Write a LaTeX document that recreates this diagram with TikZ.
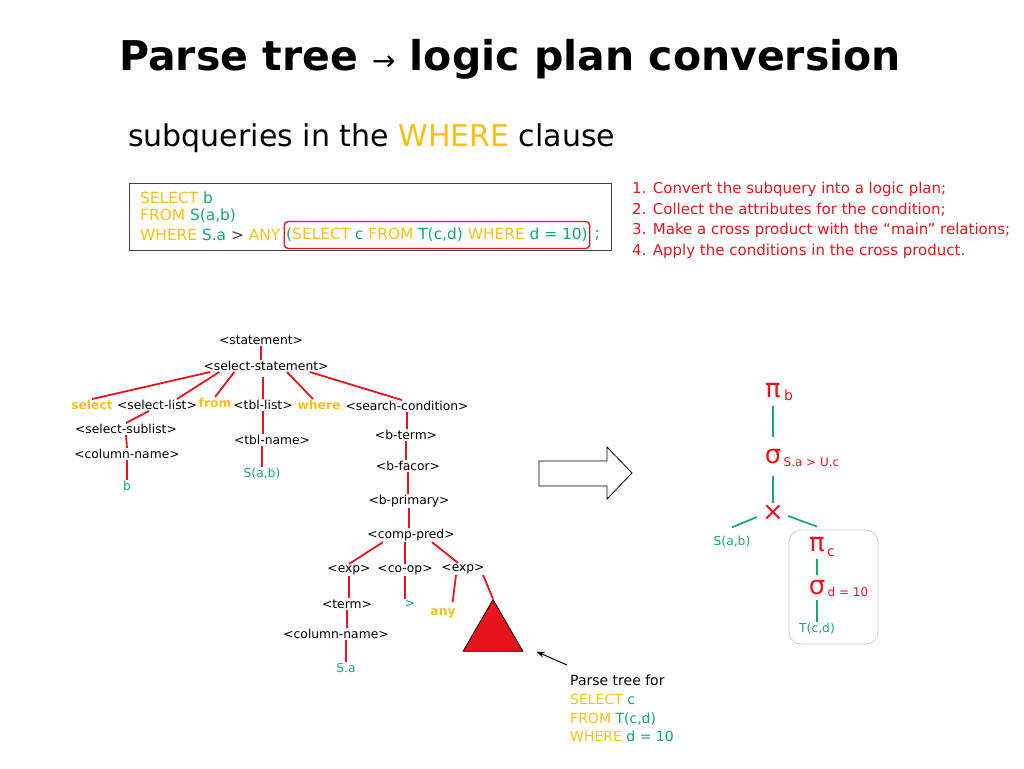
\documentclass[tikz,border=0pt]{standalone}
\usepackage{fontspec}
\setmainfont{DejaVu Sans}
\usetikzlibrary{positioning, shapes.geometric, arrows.meta, calc}
\definecolor{qred}{RGB}{232,20,28}
\definecolor{qyellow}{RGB}{248,192,20}
\definecolor{qgreen}{RGB}{20,168,106}
\definecolor{qgray}{RGB}{64,64,64}

\begin{document}
\begin{tikzpicture}[x=1pt, y=-1pt,
  nt/.style={inner sep=1pt, font=\fontsize{12.3}{12.3}\selectfont},
  kw/.style={nt, text=qyellow, font=\fontsize{12.3}{12.3}\selectfont\bfseries},
  leaf/.style={nt, text=qgreen},
  edge/.style={draw=qred, line width=1.8pt},
  pedge/.style={draw=qgreen, line width=1.7pt},
  op/.style={inner sep=0pt, text=qred, font=\fontsize{26}{26}\selectfont},
  opsub/.style={inner sep=0pt, text=qred, font=\fontsize{12}{12}\selectfont},
  sql/.style={inner sep=0pt, anchor=west, font=\fontsize{15.4}{15.4}\selectfont},
]
\useasboundingbox (0,0) rectangle (1024,768);

% title and query
\node[font=\bfseries\fontsize{41}{41}\selectfont] (title) at (510,59) {Parse tree \textmd{\fontsize{28}{28}\selectfont →} logic plan conversion};
\node[anchor=west, inner sep=0pt, font=\fontsize{30}{30}\selectfont] (subt) at (128,138) {subqueries in the \textcolor{qyellow}{WHERE} clause};

\node[draw=qgray, line width=1pt, minimum width=482pt, minimum height=67pt, anchor=north west] (box) at (129,183) {};
\node[sql] (q1) at (140,198) {\textcolor{qyellow}{SELECT} \textcolor{qgreen}{b}};
\node[sql] (q2) at (140,216) {\textcolor{qyellow}{FROM} \textcolor{qgreen}{S(a,b)}};
\node[sql] (q3) at (140,235) {\textcolor{qyellow}{WHERE} \textcolor{qgreen}{S.a} \textcolor{qgray}{>} \textcolor{qyellow}{ANY}};
\node[sql, right=3pt of q3, draw=qred, line width=1.4pt, rounded corners=4pt, inner xsep=2pt, minimum height=27pt] (inq) {\textcolor{qgreen}{(}\textcolor{qyellow}{SELECT} \textcolor{qgreen}{c} \textcolor{qyellow}{FROM} \textcolor{qgreen}{T(c,d)} \textcolor{qyellow}{WHERE} \textcolor{qgreen}{d = 10)}};
\node[sql, right=4pt of inq, text=qgreen] (semi) {;};

\node[anchor=north west, align=left, inner sep=0pt, text=qred, font=\fontsize{15}{20.5}\selectfont] (steps) at (632,182) {1. Convert the subquery into a logic plan;\\2. Collect the attributes for the condition;\\3. Make a cross product with the “main” relations;\\4. Apply the conditions in the cross product.};

% parse tree
\node[nt] (st) at (261,340) {<statement>};
\node[nt] (ss) at (266,366) {<select-statement>};
\node[kw] (sel) at (92,405) {select};
\node[nt] (sl) at (157,405) {<select-list>};
\node[kw] (fr) at (215,403) {from};
\node[nt] (tl) at (263,405) {<tbl-list>};
\node[kw] (wh) at (319,405) {where};
\node[nt] (sc) at (407,406) {<search-condition>};
\node[nt] (ssl) at (126,429) {<select-sublist>};
\node[nt] (cn1) at (127,454) {<column-name>};
\node[leaf] (b) at (127,486) {b};
\node[nt] (tn) at (272,440) {<tbl-name>};
\node[leaf] (sab) at (262,474) {S(a,b)};
\node[nt] (bt) at (406,435) {<b-term>};
\node[nt] (bf) at (408,466) {<b-facor>};
\node[nt] (bp) at (409,501) {<b-primary>};
\node[nt] (cp) at (411,535) {<comp-pred>};
\node[nt] (e1) at (349,570) {<exp>};
\node[nt] (co) at (405,570) {<co-op>};
\node[nt] (e2) at (463,569) {<exp>};
\node[nt] (tm) at (347,604) {<term>};
\node[leaf] (gt) at (410,604) {>};
\node[kw] (any) at (443,613) {any};
\node[nt] (cn2) at (336,634) {<column-name>};
\node[leaf] (sa) at (346,668) {S.a};
\node[regular polygon, regular polygon sides=3, minimum size=69pt, inner sep=0pt, draw=black, fill=qred, line width=0.8pt] (tri) at (493,634) {};

\draw[edge] (st.south) -- (st.south |- ss.north);
\draw[edge] ([xshift=8pt]ss.south west) -- (sel.north);
\draw[edge] ([xshift=17pt]ss.south west) -- ([xshift=20pt]sl.north);
\draw[edge] ([xshift=32pt]ss.south west) -- (fr.north);
\draw[edge, shorten >=5pt] (tl.north) -- (tl.north |- ss.south);
\draw[edge] ([xshift=21pt]ss.south) -- ([xshift=-6pt]wh.north);
\draw[edge] ([xshift=-20pt]ss.south east) -- ([xshift=-5pt]sc.north);
\draw[edge] ([xshift=-8pt]sl.south) -- (ssl.north);
\draw[edge] (ssl.south) -- (cn1.north);
\draw[edge] (cn1.south) -- (b.north);
\draw[edge] (tl.south) -- (tl.south |- tn.north);
\draw[edge] (sab.north) -- (sab.north |- tn.south);
\draw[edge] (sc.south) -- (sc.south |- bt.north);
\draw[edge] (bt.south) -- (bt.south |- bf.north);
\draw[edge] (bf.south) -- (bf.south |- bp.north);
\draw[edge] (bp.south) -- (bp.south |- cp.north);
\draw[edge] ([xshift=-28pt]cp.south) -- (e1.north);
\draw[edge] (co.north) -- (co.north |- cp.south);
\draw[edge] ([xshift=21pt]cp.south) -- ([xshift=-5pt]e2.north);
\draw[edge] (e1.south) -- (e1.south |- tm.north);
\draw[edge] (co.south) -- (co.south |- gt.north);
\draw[edge, shorten >=5pt] ([xshift=-7pt]e2.south) -- ([xshift=9pt]any.north);
\draw[edge] ([xshift=20pt]e2.south) -- (tri.corner 1);
\draw[edge] (tm.south) -- (tm.south |- cn2.north);
\draw[edge] (sa.north) -- (sa.north |- cn2.south);

% note on the subquery
\node[anchor=north west, align=left, inner sep=0pt, font=\fontsize{14}{18.7}\selectfont] (note) at (570,675) {Parse tree for\\\textcolor{qyellow}{SELECT} \textcolor{qgreen}{c}\\\textcolor{qyellow}{FROM} \textcolor{qgreen}{T(c,d)}\\\textcolor{qyellow}{WHERE} \textcolor{qgreen}{d = 10}};
\draw[-{Stealth[length=8pt]}, line width=1pt] ([xshift=-3pt,yshift=10pt]note.north west) -- ([xshift=13pt]tri.corner 3);

% conversion arrow
\draw[line width=0.8pt, fill=white] (539,461) -- (607,461) -- (607,447) -- (632,473) -- (607,499) -- (607,486) -- (539,486) -- cycle;

% logic plan
\node[op] (pib) at (773,391) {π};
\node[opsub, right=3pt of pib, yshift=-4pt, font=\fontsize{14}{14}\selectfont] (pibs) {b};
\node[op] (sg1) at (773,457) {σ};
\node[opsub, right=2pt of sg1, yshift=-5pt] (sg1s) {S.a > U.c};
\node[op, minimum size=20pt] (cr) at (773,513) {×};
\node[leaf] (rs) at (732,542) {S(a,b)};
\node[draw=black!20, line width=0.8pt, rounded corners=12pt, minimum width=89pt, minimum height=114pt] (subq) at (833.5,587) {};
\node[op] (pic) at (817,545) {π};
\node[opsub, right=2pt of pic, yshift=-8pt, font=\fontsize{14}{14}\selectfont] (pics) {c};
\node[op] (sg2) at (817,588) {σ};
\node[opsub, right=2pt of sg2, yshift=-4pt] (sg2s) {d = 10};
\node[leaf] (rt) at (817,629) {T(c,d)};

\draw[pedge] ([yshift=-7pt]pib.south) -- ([yshift=13pt]sg1.north);
\draw[pedge] ([yshift=-11pt]sg1.south) -- (cr.north);
\draw[pedge] ([xshift=-5pt,yshift=-4pt]cr.west) -- ([yshift=8pt]rs.north);
\draw[pedge] ([xshift=4pt,yshift=-3pt]cr.east) -- ($(pic |- subq.north)+(0,-3)$);
\draw[pedge] ([yshift=-6pt]pic.south) -- ([yshift=6pt]sg2.north);
\draw[pedge] ([yshift=-4pt]sg2.south) -- (sg2.south |- rt.north);
\end{tikzpicture}
\end{document}
